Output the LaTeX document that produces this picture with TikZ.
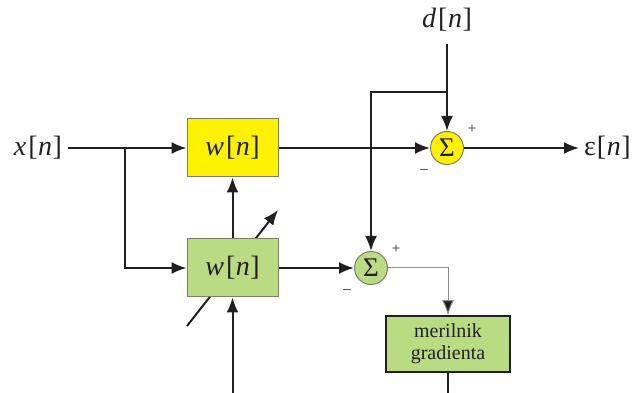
\documentclass[tikz,border=0pt]{standalone}
\usepackage{fontspec}
\setmainfont{Liberation Serif}
\usepackage{graphicx}
\usetikzlibrary{arrows.meta}
\definecolor{boxyellow}{RGB}{255,242,0}
\definecolor{boxgreen}{RGB}{185,220,130}
\definecolor{rimgray}{RGB}{125,125,105}
\definecolor{inkdark}{RGB}{35,31,32}
\newcommand{\sig}[1]{\textit{#1}\kern2pt[\kern0.5pt\textit{n}\kern0.5pt]}

\begin{document}
\begin{tikzpicture}[x=1pt,y=-1pt,
  wire/.style={line width=2pt, draw=inkdark},
  flow/.style={wire, -{Latex[length=15pt 0,width=12pt 0]}},
  thinflow/.style={line width=1pt, draw=black!45, -{Latex[length=15pt 0,width=12pt 0,fill=inkdark]}},
  filterbox/.style={draw=rimgray, line width=1pt, minimum width=91pt, minimum height=58pt, inner sep=0pt, text=inkdark, font=\fontsize{28}{28}\selectfont},
  adder/.style={circle, draw=rimgray, line width=1pt, minimum size=33pt, inner sep=0pt, text=inkdark, font=\fontsize{27}{27}\selectfont},
  sign/.style={text=inkdark, inner sep=0pt, font=\fontsize{15}{15}\selectfont},
  sigtext/.style={text=inkdark, inner sep=0pt, font=\fontsize{28}{28}\selectfont}]
\useasboundingbox (0,0) rectangle (633,393);
% tuning arrow through the adaptive filter (box covers its middle)
\coordinate (tunelo) at (187,326);
\coordinate (tunehi) at (278,210);
\draw[flow] (tunelo) -- (tunehi);
% blocks
\node[sigtext] (xin) at (38,148) {\sig{x}};
\node[filterbox, fill=boxyellow] (wy) at (232.5,148) {\sig{w}};
\node[filterbox, fill=boxgreen] (wg) at (232.5,268) {\sig{w}};
\node[adder, fill=boxyellow] (sumy) at (447,148) {Σ};
\node[adder, fill=boxgreen] (sumg) at (371,268) {Σ};
\node[sigtext] (din) at (447,20) {\sig{d}};
\node[sigtext, anchor=west] (eout) at (584,148) {ε\kern1pt[\kern0.5pt\textit{n}\kern0.5pt]};
\node[draw=inkdark, line width=1.5pt, fill=boxgreen, minimum width=124pt, minimum height=56pt,
  align=center, text=inkdark, font=\fontsize{20}{22}\selectfont] (grad) at (448,344) {merilnik\\gradienta};
% signs
\node[sign] (py) at (472,129) {+};
\node[sign] (my) at (424,172) {–};
\node[sign] (pg) at (396,249) {+};
\node[sign] (mg) at (347,292) {–};
% free ends
\coordinate (split) at (125,148);
\coordinate (tap) at (447,92);
\coordinate (wgin) at (232.5,393);
\coordinate (gradout) at (448,393);
% connectors
\draw[flow, shorten <=6pt] (xin) -- (wy);
\draw[flow] (split) |- (wg.west);
\draw[flow] (wy) -- (sumy);
\draw[flow, shorten >=5pt] (sumy) -- (eout);
\draw[flow] (din.south) ++(0,12) -- (sumy);
\draw[flow] (tap) -| (sumg);
\draw[flow] (wg) -- (wy);
\draw[flow] (wg) -- (sumg);
\draw[flow] (wgin) -- (wg);
\draw[thinflow] (sumg) -| (grad);
\draw[wire] (grad) -- (gradout);
\end{tikzpicture}
\end{document}
